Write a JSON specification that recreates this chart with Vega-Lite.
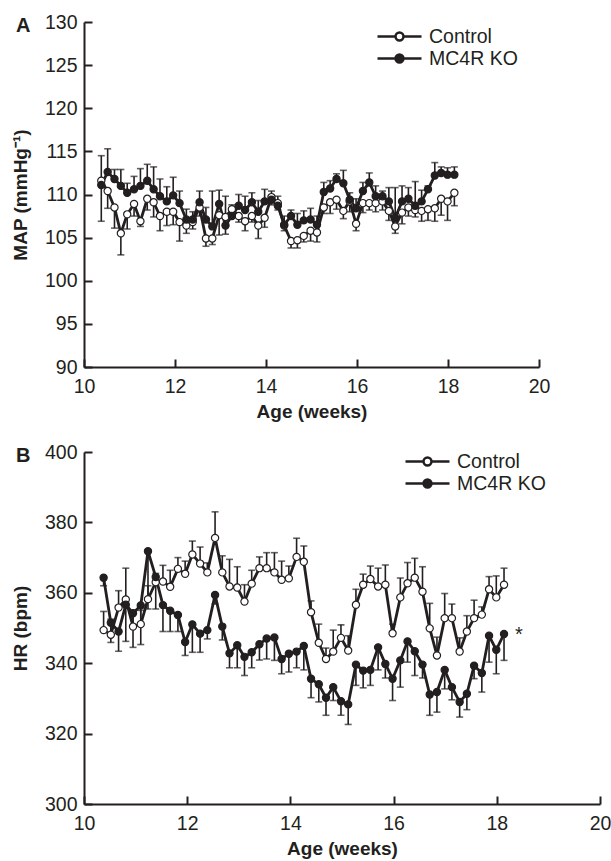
{
  "$schema": "https://vega.github.io/schema/vega-lite/v6.json",
  "background": "white",
  "padding": {"left": 11, "top": 12, "right": 0, "bottom": 5},
  "spacing": 20,
  "datasets": {
    "star": [{"w": 18.43, "v": 346.4, "lab": "*"}],
    "main": [
      {"p":"A","g":"Control","w":10.38,"v":111.6,"e":106.9},
      {"p":"A","g":"Control","w":10.52,"v":110.4,"e":108.4},
      {"p":"A","g":"Control","w":10.67,"v":108.5,"e":106.1},
      {"p":"A","g":"Control","w":10.81,"v":105.5,"e":103.0},
      {"p":"A","g":"Control","w":10.95,"v":107.7,"e":106.0},
      {"p":"A","g":"Control","w":11.10,"v":108.9,"e":107.5},
      {"p":"A","g":"Control","w":11.24,"v":106.9,"e":106.3},
      {"p":"A","g":"Control","w":11.39,"v":109.5,"e":108.2},
      {"p":"A","g":"Control","w":11.53,"v":109.1,"e":107.4},
      {"p":"A","g":"Control","w":11.67,"v":107.5,"e":105.8},
      {"p":"A","g":"Control","w":11.82,"v":108.0,"e":106.4},
      {"p":"A","g":"Control","w":11.96,"v":108.0,"e":106.5},
      {"p":"A","g":"Control","w":12.10,"v":106.8,"e":104.6},
      {"p":"A","g":"Control","w":12.25,"v":106.4,"e":105.5},
      {"p":"A","g":"Control","w":12.39,"v":106.8,"e":106.0},
      {"p":"A","g":"Control","w":12.54,"v":108.5,"e":107.5},
      {"p":"A","g":"Control","w":12.68,"v":104.9,"e":104.0},
      {"p":"A","g":"Control","w":12.82,"v":104.9,"e":104.2},
      {"p":"A","g":"Control","w":12.97,"v":107.6,"e":105.3},
      {"p":"A","g":"Control","w":13.11,"v":107.4,"e":105.4},
      {"p":"A","g":"Control","w":13.25,"v":108.3,"e":107.3},
      {"p":"A","g":"Control","w":13.40,"v":107.5,"e":106.8},
      {"p":"A","g":"Control","w":13.54,"v":106.9,"e":105.8},
      {"p":"A","g":"Control","w":13.69,"v":107.5,"e":106.8},
      {"p":"A","g":"Control","w":13.83,"v":106.4,"e":104.9},
      {"p":"A","g":"Control","w":13.97,"v":107.3,"e":106.2},
      {"p":"A","g":"Control","w":14.12,"v":109.7,"e":108.8},
      {"p":"A","g":"Control","w":14.26,"v":109.0,"e":108.2},
      {"p":"A","g":"Control","w":14.40,"v":106.4,"e":105.8},
      {"p":"A","g":"Control","w":14.55,"v":104.6,"e":103.8},
      {"p":"A","g":"Control","w":14.69,"v":104.7,"e":103.8},
      {"p":"A","g":"Control","w":14.83,"v":105.2,"e":104.5},
      {"p":"A","g":"Control","w":14.98,"v":105.8,"e":104.6},
      {"p":"A","g":"Control","w":15.12,"v":105.6,"e":104.5},
      {"p":"A","g":"Control","w":15.27,"v":108.5,"e":107.8},
      {"p":"A","g":"Control","w":15.41,"v":109.1,"e":107.8},
      {"p":"A","g":"Control","w":15.55,"v":109.4,"e":108.3},
      {"p":"A","g":"Control","w":15.70,"v":108.1,"e":107.2},
      {"p":"A","g":"Control","w":15.84,"v":109.2,"e":108.0},
      {"p":"A","g":"Control","w":15.98,"v":106.6,"e":105.8},
      {"p":"A","g":"Control","w":16.13,"v":109.0,"e":107.9},
      {"p":"A","g":"Control","w":16.27,"v":109.0,"e":108.2},
      {"p":"A","g":"Control","w":16.41,"v":109.0,"e":108.0},
      {"p":"A","g":"Control","w":16.56,"v":109.2,"e":108.2},
      {"p":"A","g":"Control","w":16.70,"v":108.1,"e":107.0},
      {"p":"A","g":"Control","w":16.84,"v":106.3,"e":105.5},
      {"p":"A","g":"Control","w":16.99,"v":107.9,"e":106.6},
      {"p":"A","g":"Control","w":17.13,"v":108.5,"e":107.5},
      {"p":"A","g":"Control","w":17.28,"v":108.2,"e":107.4},
      {"p":"A","g":"Control","w":17.42,"v":108.1,"e":106.9},
      {"p":"A","g":"Control","w":17.56,"v":108.3,"e":107.0},
      {"p":"A","g":"Control","w":17.71,"v":108.4,"e":106.9},
      {"p":"A","g":"Control","w":17.85,"v":109.5,"e":107.6},
      {"p":"A","g":"Control","w":17.99,"v":109.2,"e":107.0},
      {"p":"A","g":"Control","w":18.14,"v":110.2,"e":108.7},
      {"p":"A","g":"MC4R KO","w":10.38,"v":111.1,"e":114.5},
      {"p":"A","g":"MC4R KO","w":10.52,"v":112.6,"e":115.3},
      {"p":"A","g":"MC4R KO","w":10.67,"v":111.8,"e":112.9},
      {"p":"A","g":"MC4R KO","w":10.81,"v":111.0,"e":112.9},
      {"p":"A","g":"MC4R KO","w":10.95,"v":110.2,"e":111.3},
      {"p":"A","g":"MC4R KO","w":11.10,"v":110.6,"e":112.1},
      {"p":"A","g":"MC4R KO","w":11.24,"v":111.0,"e":113.0},
      {"p":"A","g":"MC4R KO","w":11.39,"v":111.6,"e":113.5},
      {"p":"A","g":"MC4R KO","w":11.53,"v":110.6,"e":113.2},
      {"p":"A","g":"MC4R KO","w":11.67,"v":109.8,"e":111.8},
      {"p":"A","g":"MC4R KO","w":11.82,"v":109.2,"e":110.9},
      {"p":"A","g":"MC4R KO","w":11.96,"v":109.9,"e":112.0},
      {"p":"A","g":"MC4R KO","w":12.10,"v":109.0,"e":110.4},
      {"p":"A","g":"MC4R KO","w":12.25,"v":107.1,"e":108.3},
      {"p":"A","g":"MC4R KO","w":12.39,"v":107.1,"e":108.0},
      {"p":"A","g":"MC4R KO","w":12.54,"v":109.1,"e":110.4},
      {"p":"A","g":"MC4R KO","w":12.68,"v":107.1,"e":108.5},
      {"p":"A","g":"MC4R KO","w":12.82,"v":106.3,"e":110.4},
      {"p":"A","g":"MC4R KO","w":12.97,"v":108.9,"e":110.5},
      {"p":"A","g":"MC4R KO","w":13.11,"v":106.4,"e":109.8},
      {"p":"A","g":"MC4R KO","w":13.25,"v":107.5,"e":108.8},
      {"p":"A","g":"MC4R KO","w":13.40,"v":108.7,"e":110.0},
      {"p":"A","g":"MC4R KO","w":13.54,"v":108.2,"e":109.8},
      {"p":"A","g":"MC4R KO","w":13.69,"v":109.1,"e":110.2},
      {"p":"A","g":"MC4R KO","w":13.83,"v":108.0,"e":109.3},
      {"p":"A","g":"MC4R KO","w":13.97,"v":109.2,"e":110.6},
      {"p":"A","g":"MC4R KO","w":14.12,"v":109.4,"e":110.4},
      {"p":"A","g":"MC4R KO","w":14.26,"v":108.7,"e":109.8},
      {"p":"A","g":"MC4R KO","w":14.40,"v":106.5,"e":107.5},
      {"p":"A","g":"MC4R KO","w":14.55,"v":107.5,"e":108.2},
      {"p":"A","g":"MC4R KO","w":14.69,"v":106.5,"e":107.8},
      {"p":"A","g":"MC4R KO","w":14.83,"v":107.0,"e":108.1},
      {"p":"A","g":"MC4R KO","w":14.98,"v":107.1,"e":108.4},
      {"p":"A","g":"MC4R KO","w":15.12,"v":106.5,"e":107.5},
      {"p":"A","g":"MC4R KO","w":15.27,"v":110.3,"e":111.4},
      {"p":"A","g":"MC4R KO","w":15.41,"v":110.7,"e":111.6},
      {"p":"A","g":"MC4R KO","w":15.55,"v":111.8,"e":112.4},
      {"p":"A","g":"MC4R KO","w":15.70,"v":111.3,"e":112.8},
      {"p":"A","g":"MC4R KO","w":15.84,"v":109.4,"e":110.2},
      {"p":"A","g":"MC4R KO","w":15.98,"v":108.4,"e":109.5},
      {"p":"A","g":"MC4R KO","w":16.13,"v":110.4,"e":111.4},
      {"p":"A","g":"MC4R KO","w":16.27,"v":111.4,"e":112.5},
      {"p":"A","g":"MC4R KO","w":16.41,"v":109.8,"e":111.0},
      {"p":"A","g":"MC4R KO","w":16.56,"v":109.8,"e":110.4},
      {"p":"A","g":"MC4R KO","w":16.70,"v":109.2,"e":110.8},
      {"p":"A","g":"MC4R KO","w":16.84,"v":107.3,"e":110.8},
      {"p":"A","g":"MC4R KO","w":16.99,"v":109.2,"e":111.0},
      {"p":"A","g":"MC4R KO","w":17.13,"v":109.5,"e":110.8},
      {"p":"A","g":"MC4R KO","w":17.28,"v":108.7,"e":111.5},
      {"p":"A","g":"MC4R KO","w":17.42,"v":109.2,"e":110.5},
      {"p":"A","g":"MC4R KO","w":17.56,"v":110.6,"e":111.0},
      {"p":"A","g":"MC4R KO","w":17.71,"v":112.2,"e":113.7},
      {"p":"A","g":"MC4R KO","w":17.85,"v":112.5,"e":113.2},
      {"p":"A","g":"MC4R KO","w":17.99,"v":112.3,"e":113.1},
      {"p":"A","g":"MC4R KO","w":18.14,"v":112.3,"e":113.2},
      {"p":"B","g":"Control","w":10.38,"v":349.4,"e":354.7},
      {"p":"B","g":"Control","w":10.52,"v":348.1,"e":352.5},
      {"p":"B","g":"Control","w":10.67,"v":355.8,"e":360.6},
      {"p":"B","g":"Control","w":10.81,"v":358.1,"e":367.0},
      {"p":"B","g":"Control","w":10.95,"v":350.4,"e":354.5},
      {"p":"B","g":"Control","w":11.10,"v":351.1,"e":355.0},
      {"p":"B","g":"Control","w":11.24,"v":358.2,"e":362.0},
      {"p":"B","g":"Control","w":11.39,"v":363.0,"e":365.5},
      {"p":"B","g":"Control","w":11.53,"v":363.2,"e":367.8},
      {"p":"B","g":"Control","w":11.67,"v":361.7,"e":366.4},
      {"p":"B","g":"Control","w":11.82,"v":366.8,"e":370.0},
      {"p":"B","g":"Control","w":11.96,"v":365.4,"e":369.0},
      {"p":"B","g":"Control","w":12.10,"v":370.9,"e":374.7},
      {"p":"B","g":"Control","w":12.25,"v":368.3,"e":373.0},
      {"p":"B","g":"Control","w":12.39,"v":365.8,"e":368.5},
      {"p":"B","g":"Control","w":12.54,"v":375.6,"e":383.0},
      {"p":"B","g":"Control","w":12.68,"v":365.8,"e":370.5},
      {"p":"B","g":"Control","w":12.82,"v":361.8,"e":369.5},
      {"p":"B","g":"Control","w":12.97,"v":361.5,"e":367.4},
      {"p":"B","g":"Control","w":13.11,"v":357.5,"e":362.3},
      {"p":"B","g":"Control","w":13.25,"v":362.6,"e":366.4},
      {"p":"B","g":"Control","w":13.40,"v":367.0,"e":370.2},
      {"p":"B","g":"Control","w":13.54,"v":367.0,"e":371.4},
      {"p":"B","g":"Control","w":13.69,"v":365.8,"e":371.4},
      {"p":"B","g":"Control","w":13.83,"v":363.7,"e":369.0},
      {"p":"B","g":"Control","w":13.97,"v":364.1,"e":367.6},
      {"p":"B","g":"Control","w":14.12,"v":370.2,"e":375.5},
      {"p":"B","g":"Control","w":14.26,"v":368.8,"e":373.3},
      {"p":"B","g":"Control","w":14.40,"v":354.5,"e":357.7},
      {"p":"B","g":"Control","w":14.55,"v":345.8,"e":351.1},
      {"p":"B","g":"Control","w":14.69,"v":341.2,"e":344.3},
      {"p":"B","g":"Control","w":14.83,"v":343.3,"e":349.4},
      {"p":"B","g":"Control","w":14.98,"v":347.2,"e":350.9},
      {"p":"B","g":"Control","w":15.12,"v":343.6,"e":347.8},
      {"p":"B","g":"Control","w":15.27,"v":356.6,"e":361.0},
      {"p":"B","g":"Control","w":15.41,"v":362.3,"e":365.3},
      {"p":"B","g":"Control","w":15.55,"v":363.9,"e":367.6},
      {"p":"B","g":"Control","w":15.70,"v":361.8,"e":367.0},
      {"p":"B","g":"Control","w":15.84,"v":362.3,"e":367.9},
      {"p":"B","g":"Control","w":15.98,"v":348.5,"e":351.1},
      {"p":"B","g":"Control","w":16.13,"v":358.7,"e":364.2},
      {"p":"B","g":"Control","w":16.27,"v":362.7,"e":368.6},
      {"p":"B","g":"Control","w":16.41,"v":364.3,"e":369.8},
      {"p":"B","g":"Control","w":16.56,"v":360.3,"e":367.4},
      {"p":"B","g":"Control","w":16.70,"v":349.9,"e":357.0},
      {"p":"B","g":"Control","w":16.84,"v":342.2,"e":347.4},
      {"p":"B","g":"Control","w":16.99,"v":352.8,"e":359.8},
      {"p":"B","g":"Control","w":17.13,"v":352.8,"e":356.8},
      {"p":"B","g":"Control","w":17.28,"v":343.3,"e":347.2},
      {"p":"B","g":"Control","w":17.42,"v":349.0,"e":353.5},
      {"p":"B","g":"Control","w":17.56,"v":352.8,"e":357.9},
      {"p":"B","g":"Control","w":17.71,"v":353.8,"e":356.0},
      {"p":"B","g":"Control","w":17.85,"v":361.0,"e":364.6},
      {"p":"B","g":"Control","w":17.99,"v":358.7,"e":364.8},
      {"p":"B","g":"Control","w":18.14,"v":362.3,"e":367.0},
      {"p":"B","g":"MC4R KO","w":10.38,"v":364.3,"e":362.0},
      {"p":"B","g":"MC4R KO","w":10.52,"v":351.5,"e":345.9},
      {"p":"B","g":"MC4R KO","w":10.67,"v":349.0,"e":343.4},
      {"p":"B","g":"MC4R KO","w":10.81,"v":356.6,"e":346.2},
      {"p":"B","g":"MC4R KO","w":10.95,"v":354.2,"e":344.5},
      {"p":"B","g":"MC4R KO","w":11.10,"v":356.4,"e":345.3},
      {"p":"B","g":"MC4R KO","w":11.24,"v":371.8,"e":355.4},
      {"p":"B","g":"MC4R KO","w":11.39,"v":364.5,"e":355.4},
      {"p":"B","g":"MC4R KO","w":11.53,"v":356.5,"e":349.0},
      {"p":"B","g":"MC4R KO","w":11.67,"v":354.9,"e":349.0},
      {"p":"B","g":"MC4R KO","w":11.82,"v":353.7,"e":349.0},
      {"p":"B","g":"MC4R KO","w":11.96,"v":346.0,"e":342.2},
      {"p":"B","g":"MC4R KO","w":12.10,"v":351.0,"e":343.1},
      {"p":"B","g":"MC4R KO","w":12.25,"v":348.4,"e":343.1},
      {"p":"B","g":"MC4R KO","w":12.39,"v":349.4,"e":346.9},
      {"p":"B","g":"MC4R KO","w":12.54,"v":359.4,"e":356.8},
      {"p":"B","g":"MC4R KO","w":12.68,"v":350.4,"e":346.6},
      {"p":"B","g":"MC4R KO","w":12.82,"v":342.8,"e":338.7},
      {"p":"B","g":"MC4R KO","w":12.97,"v":345.1,"e":338.7},
      {"p":"B","g":"MC4R KO","w":13.11,"v":341.8,"e":336.5},
      {"p":"B","g":"MC4R KO","w":13.25,"v":343.1,"e":338.7},
      {"p":"B","g":"MC4R KO","w":13.40,"v":345.4,"e":340.9},
      {"p":"B","g":"MC4R KO","w":13.54,"v":347.0,"e":341.2},
      {"p":"B","g":"MC4R KO","w":13.69,"v":347.3,"e":340.8},
      {"p":"B","g":"MC4R KO","w":13.83,"v":341.2,"e":337.0},
      {"p":"B","g":"MC4R KO","w":13.97,"v":342.7,"e":337.5},
      {"p":"B","g":"MC4R KO","w":14.12,"v":343.3,"e":338.7},
      {"p":"B","g":"MC4R KO","w":14.26,"v":344.9,"e":338.1},
      {"p":"B","g":"MC4R KO","w":14.40,"v":335.6,"e":330.2},
      {"p":"B","g":"MC4R KO","w":14.55,"v":334.0,"e":329.0},
      {"p":"B","g":"MC4R KO","w":14.69,"v":330.2,"e":325.2},
      {"p":"B","g":"MC4R KO","w":14.83,"v":333.2,"e":329.4},
      {"p":"B","g":"MC4R KO","w":14.98,"v":329.2,"e":325.2},
      {"p":"B","g":"MC4R KO","w":15.12,"v":328.3,"e":322.6},
      {"p":"B","g":"MC4R KO","w":15.27,"v":339.6,"e":333.7},
      {"p":"B","g":"MC4R KO","w":15.41,"v":337.9,"e":333.0},
      {"p":"B","g":"MC4R KO","w":15.55,"v":338.1,"e":333.7},
      {"p":"B","g":"MC4R KO","w":15.70,"v":344.5,"e":338.1},
      {"p":"B","g":"MC4R KO","w":15.84,"v":339.8,"e":335.8},
      {"p":"B","g":"MC4R KO","w":15.98,"v":335.6,"e":329.4},
      {"p":"B","g":"MC4R KO","w":16.13,"v":340.8,"e":333.2},
      {"p":"B","g":"MC4R KO","w":16.27,"v":346.2,"e":340.3},
      {"p":"B","g":"MC4R KO","w":16.41,"v":343.4,"e":336.5},
      {"p":"B","g":"MC4R KO","w":16.56,"v":339.6,"e":335.8},
      {"p":"B","g":"MC4R KO","w":16.70,"v":331.1,"e":325.2},
      {"p":"B","g":"MC4R KO","w":16.84,"v":331.8,"e":326.1},
      {"p":"B","g":"MC4R KO","w":16.99,"v":338.1,"e":332.7},
      {"p":"B","g":"MC4R KO","w":17.13,"v":333.2,"e":329.6},
      {"p":"B","g":"MC4R KO","w":17.28,"v":329.0,"e":324.7},
      {"p":"B","g":"MC4R KO","w":17.42,"v":331.3,"e":326.8},
      {"p":"B","g":"MC4R KO","w":17.56,"v":339.3,"e":335.6},
      {"p":"B","g":"MC4R KO","w":17.71,"v":337.2,"e":331.8},
      {"p":"B","g":"MC4R KO","w":17.85,"v":347.8,"e":340.3},
      {"p":"B","g":"MC4R KO","w":17.99,"v":343.8,"e":337.0},
      {"p":"B","g":"MC4R KO","w":18.14,"v":348.3,"e":340.8}
    ]
  },
  "resolve": {"scale": {"fill": "independent"}, "legend": {"fill": "independent"}},
  "vconcat": [
    {
      "width": 455,
      "height": 345,
      "data": {"name": "main"},
      "transform": [{"filter": "datum.p === 'A'"}],
      "title": {"text": "A", "anchor": "start", "frame": "group", "orient": "top", "align": "left", "baseline": "middle", "offset": 0, "dx": -68, "dy": 34, "fontSize": 20, "fontWeight": "bold", "font": "Liberation Sans", "color": "#231f20"},
      "encoding": {
        "x": {"field": "w", "type": "quantitative", "scale": {"domain": [10, 20], "nice": false}, "axis": {"values": [10, 12, 14, 16, 18, 20], "title": "Age (weeks)"}}
      },
      "layer": [
        {"mark": {"type": "rule", "color": "#231f20", "strokeWidth": 1.6},
         "encoding": {"y": {"field": "v", "type": "quantitative", "title": "MAP (mmHg⁻¹)", "scale": {"domain": [90, 130], "nice": false}, "axis": {"values": [90, 95, 100, 105, 110, 115, 120, 125, 130]}}, "y2": {"field": "e"}}},
        {"mark": {"type": "tick", "orient": "horizontal", "color": "#231f20", "size": 7, "thickness": 1.6},
         "encoding": {"y": {"field": "e", "type": "quantitative", "title": "MAP (mmHg⁻¹)"}}},
        {"mark": {"type": "line", "color": "#231f20", "strokeWidth": 2.8},
         "encoding": {"y": {"field": "v", "type": "quantitative", "title": "MAP (mmHg⁻¹)"}, "detail": {"field": "g"}}},
        {"mark": {"type": "point", "filled": true, "stroke": "#231f20", "strokeWidth": 1.2, "size": 52, "opacity": 1},
         "encoding": {"y": {"field": "v", "type": "quantitative", "title": "MAP (mmHg⁻¹)"},
           "fill": {"field": "g", "type": "nominal", "scale": {"domain": ["Control", "MC4R KO"], "range": ["white", "#231f20"]},
             "legend": {"title": null, "orient": "none", "legendX": 303, "legendY": 2}}}}
      ]
    },
    {
      "width": 516,
      "height": 352,
      "title": {"text": "B", "anchor": "start", "frame": "group", "orient": "top", "align": "left", "baseline": "middle", "offset": 0, "dx": -68, "dy": 34, "fontSize": 20, "fontWeight": "bold", "font": "Liberation Sans", "color": "#231f20"},
      "encoding": {
        "x": {"field": "w", "type": "quantitative", "scale": {"domain": [10, 20], "nice": false}, "axis": {"values": [10, 12, 14, 16, 18, 20], "title": "Age (weeks)"}}
      },
      "layer": [
        {"data": {"name": "main"}, "transform": [{"filter": "datum.p === 'B'"}],
         "mark": {"type": "rule", "color": "#231f20", "strokeWidth": 1.6},
         "encoding": {"y": {"field": "v", "type": "quantitative", "title": "HR (bpm)", "scale": {"domain": [300, 400], "nice": false}, "axis": {"values": [300, 320, 340, 360, 380, 400]}}, "y2": {"field": "e"}}},
        {"data": {"name": "main"}, "transform": [{"filter": "datum.p === 'B'"}],
         "mark": {"type": "tick", "orient": "horizontal", "color": "#231f20", "size": 7, "thickness": 1.6},
         "encoding": {"y": {"field": "e", "type": "quantitative", "title": "HR (bpm)"}}},
        {"data": {"name": "main"}, "transform": [{"filter": "datum.p === 'B'"}],
         "mark": {"type": "line", "color": "#231f20", "strokeWidth": 2.8},
         "encoding": {"y": {"field": "v", "type": "quantitative", "title": "HR (bpm)"}, "detail": {"field": "g"}}},
        {"data": {"name": "main"}, "transform": [{"filter": "datum.p === 'B'"}],
         "mark": {"type": "point", "filled": true, "stroke": "#231f20", "strokeWidth": 1.2, "size": 52, "opacity": 1},
         "encoding": {"y": {"field": "v", "type": "quantitative", "title": "HR (bpm)"},
           "fill": {"field": "g", "type": "nominal", "scale": {"domain": ["Control", "MC4R KO"], "range": ["white", "#231f20"]},
             "legend": {"title": null, "orient": "none", "legendX": 331, "legendY": -3}}}},
        {"data": {"name": "star"},
         "mark": {"type": "text", "font": "Liberation Sans", "fontSize": 20, "color": "#231f20", "baseline": "alphabetic", "align": "center"},
         "encoding": {"y": {"field": "v", "type": "quantitative", "title": "HR (bpm)"}, "text": {"field": "lab"}}}
      ]
    }
  ],
  "config": {
    "view": {"stroke": null},
    "font": "Liberation Sans",
    "axis": {"grid": false, "domainColor": "#231f20", "domainWidth": 2, "tickColor": "#231f20", "tickWidth": 2, "tickSize": -8,
      "labelFont": "Liberation Sans Narrow, Liberation Sans", "labelFontSize": 19.5, "labelColor": "#231f20", "labelFlush": false,
      "titleFont": "Liberation Sans", "titleFontSize": 19, "titleFontWeight": "bold", "titleColor": "#231f20"},
    "axisX": {"labelPadding": 18, "titlePadding": 7, "labelFlush": false},
    "axisY": {"labelPadding": 15, "titlePadding": 14},
    "legend": {"symbolType": "M-2,0H-0.36M0.36,0H2M0.36,0C0.36,0.199,0.199,0.36,0,0.36C-0.199,0.36,-0.36,0.199,-0.36,0C-0.36,-0.199,-0.199,-0.36,0,-0.36C0.199,-0.36,0.36,-0.199,0.36,0Z",
      "symbolSize": 484, "symbolStrokeColor": "#231f20", "symbolStrokeWidth": 2.5,
      "labelFont": "Liberation Sans Narrow, Liberation Sans", "labelFontSize": 19.5, "labelColor": "#231f20", "labelOffset": 17, "rowPadding": 0, "padding": 0}
  }
}
